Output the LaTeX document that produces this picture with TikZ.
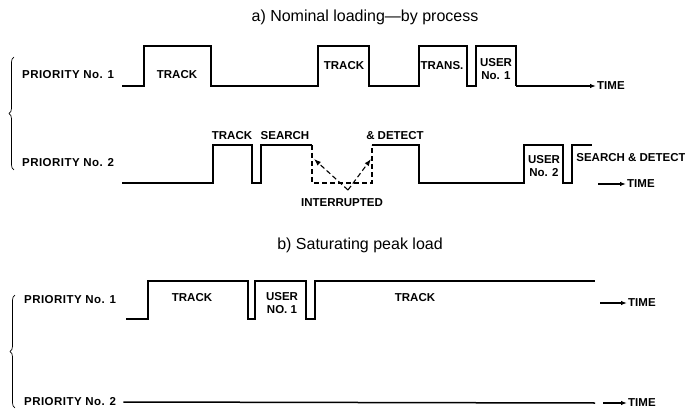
\documentclass[tikz,border=0pt]{standalone}
\usepackage{fontspec}
\setmainfont{Liberation Sans}
\usetikzlibrary{arrows.meta,decorations.pathreplacing}

\begin{document}
\begin{tikzpicture}[x=1pt, y=-1pt,
    wave/.style={line width=1.5pt, line join=miter},
    cut/.style={dash pattern=on 5pt off 3pt, line width=1.2pt},
    lbl/.style={font=\fontsize{11.5}{13.5}\selectfont\bfseries, inner sep=1pt, align=center},
    prio/.style={lbl, anchor=west, font=\fontsize{11.5}{13.5}\selectfont\bfseries\addfontfeatures{LetterSpace=4}},
    heading/.style={font=\fontsize{16}{18}\selectfont},
    timelbl/.style={lbl, anchor=west},
    timearrow/.style={line width=1.2pt, -{Latex[length=6pt,width=4.5pt]}},
    pointer/.style={dash pattern=on 5pt off 3pt, line width=1.1pt, -{Latex[length=7pt,width=5pt]}},
    groupbrace/.style={decorate, decoration={brace, amplitude=5pt}, line width=0.7pt}
]
    \useasboundingbox (0,0) rectangle (685,414);

    % a) nominal loading
    \node[heading] (titleA) at (365,17) {a) Nominal loading---by process};
    \draw[groupbrace] (14,170) -- (14,57);
    \node[prio] (pA1) at (21,75) {PRIORITY No. 1};
    \node[prio] (pA2) at (21,163) {PRIORITY No. 2};

    % priority 1
    \draw[wave] (122,86) -- (144,86) -- (144,46) -- (211,46) -- (211,86) -- (318,86) -- (318,46)
        -- (369,46) -- (369,86) -- (419,86) -- (419,46) -- (467,46) -- (467,86) -- (476,86)
        -- (476,46) -- (516,46) -- (516,86) coordinate (endA1);
    \node[lbl] (trackA1) at (177,75) {TRACK};
    \node[lbl] (trackA2) at (344,66) {TRACK};
    \node[lbl] (transA) at (442,66) {TRANS.};
    \node[lbl] (userA1) at (496,69) {USER\\No. 1};
    \node[timelbl] (timeA1) at (596,86) {TIME};
    \draw[timearrow] (endA1) -- (timeA1.west);

    % priority 2
    \draw[wave] (122,183) -- (213,183) -- (213,145) -- (252,145) -- (252,183) -- (261,183)
        -- (261,145) -- (312,145) coordinate (stopA);
    \draw[cut] (stopA) -- (312,183) -- (372,183) -- (372,145) coordinate (goA);
    \draw[wave] (goA) -- (419,145) -- (419,183) -- (524,183) -- (524,145) -- (563,145)
        -- (563,183) -- (572,183) -- (572,145) -- (592,145);
    \node[lbl] (trackA3) at (232,136) {TRACK};
    \node[lbl] (searchA) at (285,136) {SEARCH};
    \node[lbl] (detectA) at (395,136) {\& DETECT};
    \node[lbl] (userA2) at (544,166) {USER\\No. 2};
    \node[lbl] (sdA) at (631,158) {SEARCH \& DETECT};
    \node[lbl] (intA) at (342,203) {INTERRUPTED};
    \coordinate (vA) at (348,190);
    \draw[pointer] (vA) -- (314,159);
    \draw[pointer] (vA) -- (371,159);
    \coordinate (startA2) at (598,184);
    \node[timelbl] (timeA2) at (626,184) {TIME};
    \draw[timearrow] (startA2) -- (timeA2.west);

    % b) saturating peak load
    \node[heading] (titleB) at (360,245) {b) Saturating peak load};
    \draw[groupbrace] (15,408) -- (15,295);
    \node[prio] (pB1) at (23,300) {PRIORITY No. 1};
    \node[prio] (pB2) at (23,402) {PRIORITY No. 2};

    \draw[wave] (126,319) -- (148,319) -- (148,281) -- (248,281) -- (248,319) -- (255,319)
        -- (255,281) -- (306,281) -- (306,319) -- (315,319) -- (315,281) -- (595,281);
    \node[lbl] (trackB1) at (192,298) {TRACK};
    \node[lbl] (userB) at (282,303) {USER\\NO. 1};
    \node[lbl] (trackB2) at (415,298) {TRACK};
    \coordinate (startB1) at (600,303);
    \node[timelbl] (timeB1) at (627,303) {TIME};
    \draw[timearrow] (startB1) -- (timeB1.west);

    \draw[wave] (pB2.east) ++(6,0) coordinate (lineB) -- (595,403);
    \coordinate (startB2) at (603,403);
    \node[timelbl] (timeB2) at (627,403) {TIME};
    \draw[timearrow] (startB2) -- (timeB2.west);
\end{tikzpicture}
\end{document}
